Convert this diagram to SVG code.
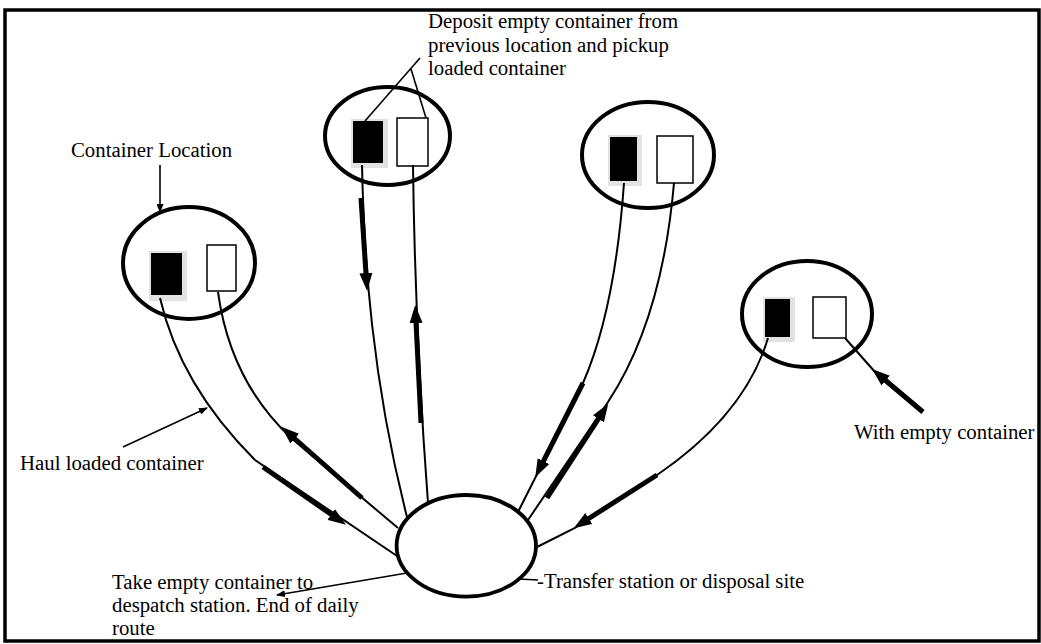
<svg xmlns="http://www.w3.org/2000/svg" width="1041" height="644" viewBox="0 0 1041 644">
<style>
.t{font-family:"Liberation Serif","Times New Roman",serif;font-size:20.8px;fill:#000}
.loc{fill:#fff;stroke:#000;stroke-width:4}
.blk{fill:#000}
.shd{fill:#e2e2e2}
.wht{fill:#fff;stroke:#000;stroke-width:1.5}
.thin{fill:none;stroke:#000;stroke-width:2}
.thick{fill:none;stroke:#000;stroke-width:5;marker-end:url(#big)}
.ptr{fill:none;stroke:#000;stroke-width:1.6}
</style>
<defs>
<marker id="big" markerUnits="userSpaceOnUse" markerWidth="18" markerHeight="14" viewBox="0 0 18 14" refX="1" refY="7" orient="auto"><path d="M0,0.5 L18,7 L0,13.5 Z" fill="#000"/></marker>
<marker id="sm" markerUnits="userSpaceOnUse" markerWidth="9" markerHeight="7" viewBox="0 0 9 7" refX="8" refY="3.5" orient="auto"><path d="M0,0 L9,3.5 L0,7 Z" fill="#000"/></marker>
</defs>
<rect x="0" y="0" width="1041" height="644" fill="#fff"/>
<rect x="5" y="10" width="1034" height="631" fill="none" stroke="#000" stroke-width="3.5"/>

<g id="loc1">
<ellipse class="loc" cx="189" cy="263" rx="66" ry="56"/>
<rect class="shd" x="149" y="251" width="38" height="50"/>
<rect class="blk" x="151" y="253" width="31" height="42"/>
<rect class="wht" x="207" y="245" width="29" height="46"/>
</g>
<g id="loc2">
<ellipse class="loc" cx="387.5" cy="136" rx="62.5" ry="49"/>
<rect class="shd" x="351" y="119" width="37" height="49"/>
<rect class="blk" x="353" y="121" width="30" height="42"/>
<rect class="wht" x="397" y="118" width="31" height="48"/>
</g>
<g id="loc3">
<ellipse class="loc" cx="648" cy="155" rx="66" ry="53"/>
<rect class="shd" x="608" y="135" width="34" height="51"/>
<rect class="blk" x="610" y="137" width="27" height="44"/>
<rect class="wht" x="657" y="136" width="36" height="47"/>
</g>
<g id="loc4">
<ellipse class="loc" cx="807" cy="314" rx="65" ry="53"/>
<rect class="shd" x="763" y="297" width="32" height="45"/>
<rect class="blk" x="765" y="299" width="25" height="38"/>
<rect class="wht" x="813" y="297" width="33" height="41"/>
</g>

<g id="connectors">
<path class="thin" d="M160,298 Q180,385 255,460 L400,558"/>
<path class="thin" d="M218,292 Q230,380 290,437 L398,528"/>
<path class="thin" d="M362,165 C364,260 372,380 407,517"/>
<path class="thin" d="M413,165 Q415,330 428,503"/>
<path class="thin" d="M624,183 Q615,310 583,383 L518,512"/>
<path class="thin" d="M674,183 Q662,320 608,402 L528,520"/>
<path class="thin" d="M768,338 Q745,415 657,475 L575,528 L535,548"/>
<path class="thin" d="M845,338 L875,372"/>
<path class="thick" d="M263,467 L332,515"/>
<path class="thick" d="M362,498 L294,438"/>
<path class="thick" d="M361,198 L366,274"/>
<path class="thick" d="M421,423 L416,322"/>
<path class="thick" d="M583,383 L543,462"/>
<path class="thick" d="M547,498 L599,418"/>
<path class="thick" d="M657,475 L588,519"/>
<path class="thick" d="M923,412 L885,380"/>
<path class="ptr" stroke-width="2.5" d="M420,58 L365,121"/>
<path class="ptr" stroke-width="2.5" d="M411,69 L426,118"/>
<path class="ptr" d="M160,165 L160,212" marker-end="url(#sm)"/>
<path class="ptr" d="M123,447 L207,408" marker-end="url(#sm)"/>
<path class="ptr" d="M407,573 L277,595" marker-end="url(#sm)"/>
<path class="ptr" stroke-width="1" d="M519,579 L538,580"/>
</g>

<g id="site">
<ellipse cx="466.3" cy="545.8" rx="69.7" ry="50.8" fill="#fff" stroke="#000" stroke-width="3.8"/>
</g>

<g id="labels">
<text class="t" x="428" y="28">Deposit empty container from</text>
<text class="t" x="428" y="51.5">previous location and pickup</text>
<text class="t" x="428" y="75">loaded container</text>
<text class="t" x="71" y="157">Container Location</text>
<text class="t" x="20" y="470">Haul loaded container</text>
<text class="t" x="854" y="439">With empty container</text>
<text class="t" x="537" y="588">-Transfer station or disposal site</text>
<text class="t" x="112" y="589">Take empty container to</text>
<text class="t" x="112" y="612">despatch station. End of daily</text>
<text class="t" x="112" y="635">route</text>
</g>
</svg>
